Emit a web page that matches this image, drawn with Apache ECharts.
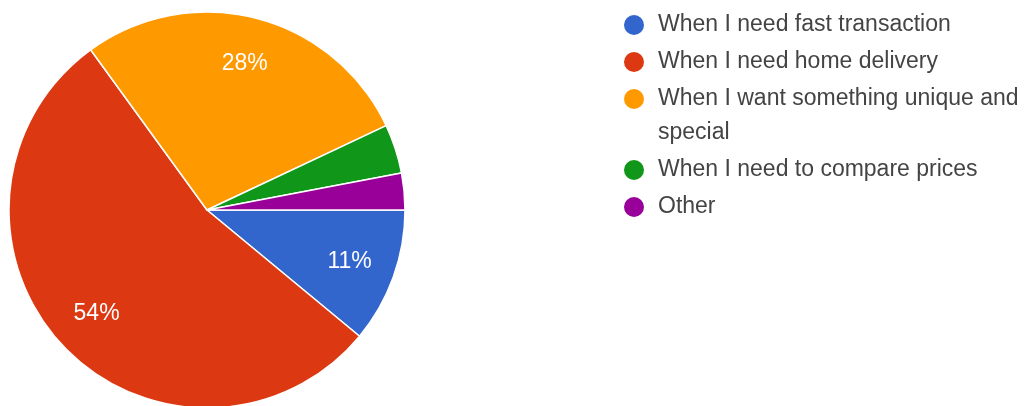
<!DOCTYPE html>
<html>
<head>
<meta charset="utf-8">
<style>
  html, body { margin: 0; padding: 0; background: #ffffff; }
  #chart { width: 1026px; height: 406px; }
</style>
<script src="https://cdn.jsdelivr.net/npm/echarts@6/dist/echarts.min.js"></script>
</head>
<body>
<div id="chart"></div>
<script>
// Survey answers and their share of responses (percent)
const categories = [
  'When I need fast transaction',
  'When I need home delivery',
  'When I want something unique and special',
  'When I need to compare prices',
  'Other'
];
const shares = [11, 54, 28, 4, 3];
const colors = ['#3366cc', '#dc3912', '#ff9900', '#109618', '#990099'];

// Slices smaller than this carry no percentage label
const labelThreshold = 5;

const FONT = '"Liberation Sans", Arial, sans-serif';
const CENTER = [207, 210];
const R = 198;
const LEGEND_LEFT = 622;
const ROW = 37;          // distance between legend rows
const LINE = 34;         // line height of legend text

const sliceData = categories.map((name, i) => ({
  name,
  value: shares[i],
  itemStyle: { color: colors[i] }
}));

// Transparent ring that carries the percentage labels three quarters of the way out
const labelData = categories.map((name, i) => ({
  name,
  value: shares[i],
  label: { show: shares[i] >= labelThreshold }
}));

const legendText = {
  fontFamily: FONT,
  fontSize: 23,
  color: '#444444',
  lineHeight: LINE,
  padding: [0, 0, 0, 8]
};

// Legend split in three blocks so the wrapped entry keeps its marker on its first line
function legendBlock(indices, top, formatter) {
  const block = {
    orient: 'vertical',
    left: LEGEND_LEFT,
    top,
    padding: 0,
    icon: 'circle',
    itemWidth: 22,
    itemHeight: 22,
    itemGap: ROW - LINE,
    selectedMode: false,
    data: indices.map(i => ({ name: categories[i], itemStyle: { color: colors[i] } })),
    textStyle: legendText
  };
  if (formatter) block.formatter = formatter;
  return block;
}

// long entry: last word goes to a second line; leading blank line keeps
// the marker level with the first text line
const wrapLast = name => '\n' + name.replace(/ (\S+)$/, '\n$1');

const firstRowCenter = 25;
const chart = echarts.init(document.getElementById('chart'), null, { renderer: 'canvas' });
chart.setOption({
  backgroundColor: '#ffffff',
  animation: false,
  legend: [
    legendBlock([0, 1], firstRowCenter - LINE / 2),
    legendBlock([2], firstRowCenter + 2 * ROW - LINE * 1.5, wrapLast),
    legendBlock([3, 4], firstRowCenter + 2 * ROW + LINE + ROW - LINE / 2)
  ],
  series: [
    {
      type: 'pie',
      center: CENTER,
      radius: R,
      startAngle: 0,
      clockwise: true,
      avoidLabelOverlap: false,
      itemStyle: { borderColor: '#ffffff', borderWidth: 1.5 },
      label: { show: false },
      labelLine: { show: false },
      emphasis: { disabled: true },
      data: sliceData
    },
    {
      type: 'pie',
      silent: true,
      center: CENTER,
      radius: [R / 2, R],
      startAngle: 0,
      clockwise: true,
      avoidLabelOverlap: false,
      percentPrecision: 0,
      itemStyle: { color: 'rgba(0,0,0,0)' },
      label: {
        position: 'inside',
        formatter: '{d}%',
        color: '#ffffff',
        fontFamily: FONT,
        fontSize: 23
      },
      labelLine: { show: false },
      emphasis: { disabled: true },
      data: labelData
    }
  ]
});
</script>
</body>
</html>
